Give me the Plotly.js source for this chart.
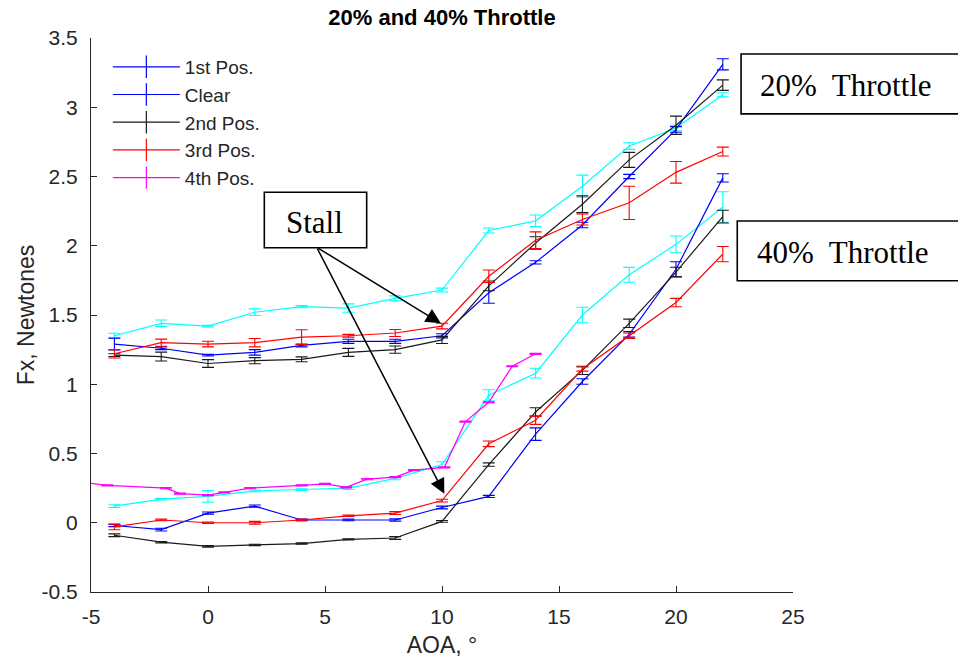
<!DOCTYPE html>
<html>
<head>
<meta charset="utf-8">
<script src="https://cdn.plot.ly/plotly-3.0.1.min.js"></script>
<style>
  html, body { margin: 0; padding: 0; background: #fff; }
  #chart { width: 958px; height: 661px; }
</style>
</head>
<body>
<div id="chart"></div>
<script>
// Angle of attack (deg) used by every position series
const aoa = [-4, -2, 0, 2, 4, 6, 8, 10, 12, 14, 16, 18, 20, 22];

// 20% throttle, Fx (N) and error half-widths
const blue20  = [1.29, 1.26, 1.21, 1.23, 1.28, 1.31, 1.31, 1.35, 1.66, 1.88, 2.15, 2.50, 2.84, 3.31];
const blue20E = [0.043, 0.010, 0.006, 0.020, 0.010, 0.015, 0.015, 0.015, 0.075, 0.012, 0.020, 0.015, 0.020, 0.040];
const black20  = [1.21, 1.20, 1.15, 1.17, 1.18, 1.23, 1.25, 1.32, 1.71, 2.02, 2.30, 2.62, 2.87, 3.16];
const black20E = [0.010, 0.032, 0.028, 0.022, 0.018, 0.029, 0.026, 0.026, 0.035, 0.045, 0.060, 0.054, 0.066, 0.038];
const red20  = [1.22, 1.30, 1.29, 1.30, 1.34, 1.35, 1.37, 1.42, 1.78, 2.04, 2.19, 2.31, 2.53, 2.68];
const red20E = [0.030, 0.026, 0.020, 0.030, 0.053, 0.010, 0.025, 0.020, 0.045, 0.060, 0.040, 0.120, 0.078, 0.032];
const cyan20  = [1.35, 1.44, 1.42, 1.52, 1.56, 1.55, 1.62, 1.68, 2.11, 2.18, 2.43, 2.72, 2.85, 3.09];
const cyan20E = [0.018, 0.024, 0.006, 0.024, 0.008, 0.030, 0.018, 0.014, 0.018, 0.042, 0.080, 0.024, 0.020, 0.015];

// 40% throttle, Fx (N) and error half-widths
const blue40  = [-0.02, -0.05, 0.07, 0.12, 0.02, 0.02, 0.02, 0.11, 0.19, 0.64, 1.02, 1.36, 1.83, 2.49];
const blue40E = [0.008, 0.010, 0.008, 0.008, 0.006, 0.006, 0.008, 0.010, 0.008, 0.045, 0.020, 0.020, 0.054, 0.030];
const black40  = [-0.09, -0.14, -0.17, -0.16, -0.15, -0.12, -0.11, 0.01, 0.42, 0.80, 1.10, 1.44, 1.81, 2.21];
const black40E = [0.010, 0.005, 0.006, 0.005, 0.005, 0.005, 0.010, 0.006, 0.012, 0.030, 0.030, 0.030, 0.035, 0.046];
const red40  = [-0.03, 0.02, 0.00, 0.00, 0.02, 0.05, 0.07, 0.16, 0.57, 0.74, 1.11, 1.35, 1.59, 1.94];
const red40E = [0.020, 0.006, 0.005, 0.010, 0.006, 0.005, 0.010, 0.010, 0.020, 0.030, 0.015, 0.020, 0.030, 0.055];
const cyan40  = [0.12, 0.17, 0.19, 0.23, 0.24, 0.25, 0.32, 0.42, 0.92, 1.08, 1.50, 1.79, 2.01, 2.28];
const cyan40E = [0.010, 0.006, 0.042, 0.006, 0.006, 0.010, 0.010, 0.020, 0.040, 0.035, 0.056, 0.054, 0.060, 0.110];

// 4th position, sampled on a finer AOA grid
const aoaMag = [-5.3, -4.3, -1.8, -1.2, 0, 0.7, 1.8, 4, 5, 5.9, 6.8, 8, 8.8, 10.1, 11, 12, 13, 14];
const mag    = [0.29, 0.27, 0.25, 0.21, 0.20, 0.22, 0.25, 0.27, 0.28, 0.255, 0.315, 0.33, 0.38, 0.40, 0.73, 0.87, 1.13, 1.22];
const magE   = [0.004, 0.004, 0.004, 0.004, 0.004, 0.004, 0.004, 0.004, 0.004, 0.004, 0.004, 0.004, 0.004, 0.004, 0.004, 0.004, 0.004, 0.004];

// Legend entries
const legendNames  = ['1st Pos.', 'Clear', '2nd Pos.', '3rd Pos.', '4th Pos.'];

// Tick labels (plain hyphen minus)
const xTickVals = [-5, 0, 5, 10, 15, 20, 25];
const xTickText = ['-5', '0', '5', '10', '15', '20', '25'];
const yTickVals = [-0.5, 0, 0.5, 1, 1.5, 2, 2.5, 3, 3.5];
const yTickText = ['-0.5', '0', '0.5', '1', '1.5', '2', '2.5', '3', '3.5'];

const BLUE = '#0000ff', BLACK = '#1a1a1a', RED = '#ff0000', CYAN = '#00ffff', MAGENTA = '#ff00ff';
const legendColors = [BLUE, BLUE, BLACK, RED, MAGENTA];

function series(x, y, err, color, name) {
  return {
    type: 'scatter', mode: 'lines', x: x, y: y, name: name,
    showlegend: false,
    line: { color: color, width: 1.2 },
    error_y: { type: 'data', array: err, visible: true, color: color, thickness: 1.1, width: 6 },
    hoverinfo: 'x+y+name'
  };
}

const traces = [
  series(aoa, cyan20, cyan20E, CYAN, 'Clear (20%)'),
  series(aoa, cyan40, cyan40E, CYAN, 'Clear (40%)'),
  series(aoa, blue20, blue20E, BLUE, '1st Pos. (20%)'),
  series(aoa, blue40, blue40E, BLUE, '1st Pos. (40%)'),
  series(aoa, black20, black20E, BLACK, '2nd Pos. (20%)'),
  series(aoa, red20, red20E, RED, '3rd Pos. (20%)'),
  series(aoaMag, mag, magE, MAGENTA, '4th Pos.'),
  series(aoa, black40, black40E, BLACK, '2nd Pos. (40%)'),
  series(aoa, red40, red40E, RED, '3rd Pos. (40%)')
];

// Legend keys: a line with a vertical error-bar stroke through it
legendNames.forEach(function (nm, i) {
  traces.push({
    type: 'scatter', mode: 'lines+markers', x: [null], y: [null], name: nm,
    showlegend: true,
    line: { color: legendColors[i], width: 1.2 },
    marker: { symbol: 'line-ns-open', size: 17, color: legendColors[i], line: { color: legendColors[i], width: 1.2 } },
    hoverinfo: 'skip'
  });
});

const tickFont = { family: 'Liberation Sans, Arial, sans-serif', size: 21, color: '#262626' };
const titleFont = { family: 'Liberation Sans, Arial, sans-serif', size: 23, color: '#262626' };
const serif = 'Liberation Serif, Times New Roman, serif';

const layout = {
  width: 958, height: 661,
  margin: { l: 91, r: 165, t: 38, b: 69, pad: 0 },
  paper_bgcolor: '#fff', plot_bgcolor: '#fff',
  showlegend: true,
  title: {
    text: '<b>20% and 40% Throttle</b>',
    font: { family: 'Liberation Sans, Arial, sans-serif', size: 22, color: '#000' },
    xref: 'paper', x: 0.5, xanchor: 'center',
    yref: 'container', y: 0.974, yanchor: 'middle'
  },
  xaxis: {
    range: [-5, 25], tickmode: 'array', tickvals: xTickVals, ticktext: xTickText,
    ticks: 'inside', ticklen: 6, tickwidth: 1, tickcolor: '#262626',
    showline: true, linecolor: '#262626', linewidth: 1, mirror: false,
    showgrid: false, zeroline: false, tickfont: tickFont, ticklabelstandoff: 6,
    title: { text: 'AOA, °', font: titleFont, standoff: 9 }
  },
  yaxis: {
    range: [-0.5, 3.5], tickmode: 'array', tickvals: yTickVals, ticktext: yTickText,
    ticks: 'inside', ticklen: 6, tickwidth: 1, tickcolor: '#262626',
    showline: true, linecolor: '#262626', linewidth: 1, mirror: false,
    showgrid: false, zeroline: false, tickfont: tickFont, ticklabelstandoff: 8,
    title: { text: 'Fx, Newtones', font: titleFont, standoff: 0 }
  },
  legend: {
    x: 0.024, y: 0.982, xanchor: 'left', yanchor: 'top',
    bgcolor: 'rgba(0,0,0,0)', borderwidth: 0,
    font: { family: 'Liberation Sans, Arial, sans-serif', size: 19, color: '#262626' },
    itemwidth: 67, traceorder: 'normal'
  },
  shapes: [
    { type: 'rect', xref: 'paper', yref: 'paper', x0: 0.926, x1: 1.27, y0: 0.863, y1: 0.971,
      line: { color: '#000', width: 1.6 }, fillcolor: '#fff', layer: 'above' },
    { type: 'rect', xref: 'paper', yref: 'paper', x0: 0.9206, x1: 1.27, y0: 0.5619, y1: 0.6697,
      line: { color: '#000', width: 1.6 }, fillcolor: '#fff', layer: 'above' },
    { type: 'rect', xref: 'paper', yref: 'paper', x0: 0.2469, x1: 0.3927, y0: 0.6215, y1: 0.7215,
      line: { color: '#000', width: 1.6 }, fillcolor: '#fff', layer: 'above' }
  ],
  annotations: [
    { xref: 'paper', yref: 'paper', x: 1.0755, y: 0.915, xanchor: 'center', yanchor: 'middle',
      text: '20%  Throttle', showarrow: false, font: { family: serif, size: 31, color: '#000' } },
    { xref: 'paper', yref: 'paper', x: 1.0712, y: 0.613, xanchor: 'center', yanchor: 'middle',
      text: '40%  Throttle', showarrow: false, font: { family: serif, size: 31, color: '#000' } },
    { xref: 'paper', yref: 'paper', x: 0.3184, y: 0.667, xanchor: 'center', yanchor: 'middle',
      text: 'Stall', showarrow: false, font: { family: serif, size: 31, color: '#000' } },
    { xref: 'x', yref: 'y', x: 9.95, y: 1.44, axref: 'x', ayref: 'y', ax: 4.64, ay: 1.99,
      text: '', showarrow: true, arrowhead: 2, arrowsize: 2, arrowwidth: 1.5, arrowcolor: '#000' },
    { xref: 'x', yref: 'y', x: 10.1, y: 0.21, axref: 'x', ayref: 'y', ax: 4.64, ay: 1.99,
      text: '', showarrow: true, arrowhead: 2, arrowsize: 2, arrowwidth: 1.5, arrowcolor: '#000' }
  ]
};

Plotly.newPlot('chart', traces, layout, { staticPlot: true, displayModeBar: false });
</script>
</body>
</html>
